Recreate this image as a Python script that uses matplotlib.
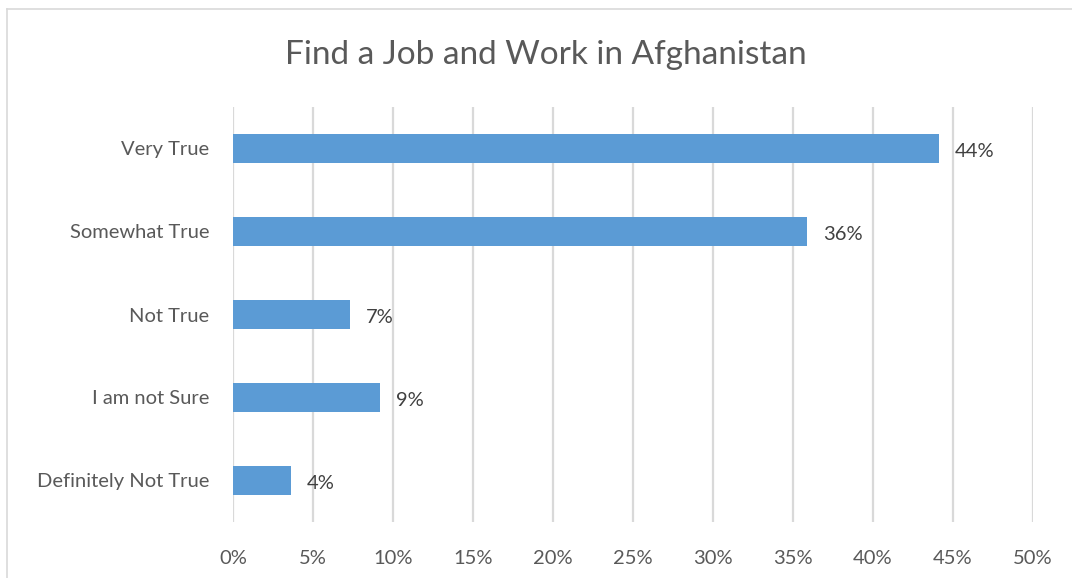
import matplotlib.pyplot as plt
from matplotlib.lines import Line2D

plt.rcParams['font.family'] = ['Lato', 'DejaVu Sans']

categories = ["Very True", "Somewhat True", "Not True", "I am not Sure", "Definitely Not True"]
shares = [44.1, 35.9, 7.3, 9.2, 3.6]
ticks = [0, 5, 10, 15, 20, 25, 30, 35, 40, 45, 50]

text_color = "#595959"
grid_color = "#d9d9d9"

fig = plt.figure(figsize=(10.72, 5.78), dpi=100)
ax = fig.add_axes([233 / 1072, 1 - 522 / 578, 800 / 1072, 415 / 578])

pos = list(range(len(categories)))
ax.barh(pos, shares, height=0.34, color="#5b9bd5", zorder=3)
for y, v in zip(pos, shares):
    ax.text(v + 1.0, y + 0.04, "{:.0f}%".format(v), va="center", ha="left",
            fontsize=14.5, color="#404040", zorder=4)

ax.set_xlim(0, 50)
ax.set_ylim(len(categories) - 0.5, -0.5)
ax.set_xticks(ticks)
ax.set_xticklabels(["{}%".format(t) for t in ticks])
ax.set_yticks(pos)
ax.set_yticklabels(categories)
ax.tick_params(axis="both", length=0, labelsize=14.5, labelcolor=text_color)
ax.tick_params(axis="x", pad=20)
ax.tick_params(axis="y", pad=17)
ax.grid(axis="x", color=grid_color, linewidth=1.6, zorder=0)
for s in ax.spines.values():
    s.set_visible(False)

fig.text(546 / 1072, 1 - 55 / 578, "Find a Job and Work in Afghanistan",
         ha="center", va="center", fontsize=24, color=text_color)

# chart frame
fig.add_artist(Line2D([7 / 1072, 7 / 1072], [0, 1 - 9 / 578], color=grid_color, lw=1.2))
fig.add_artist(Line2D([7 / 1072, 1], [1 - 9 / 578, 1 - 9 / 578], color=grid_color, lw=1.2))

fig.savefig("out.png", dpi=100, facecolor="white")
